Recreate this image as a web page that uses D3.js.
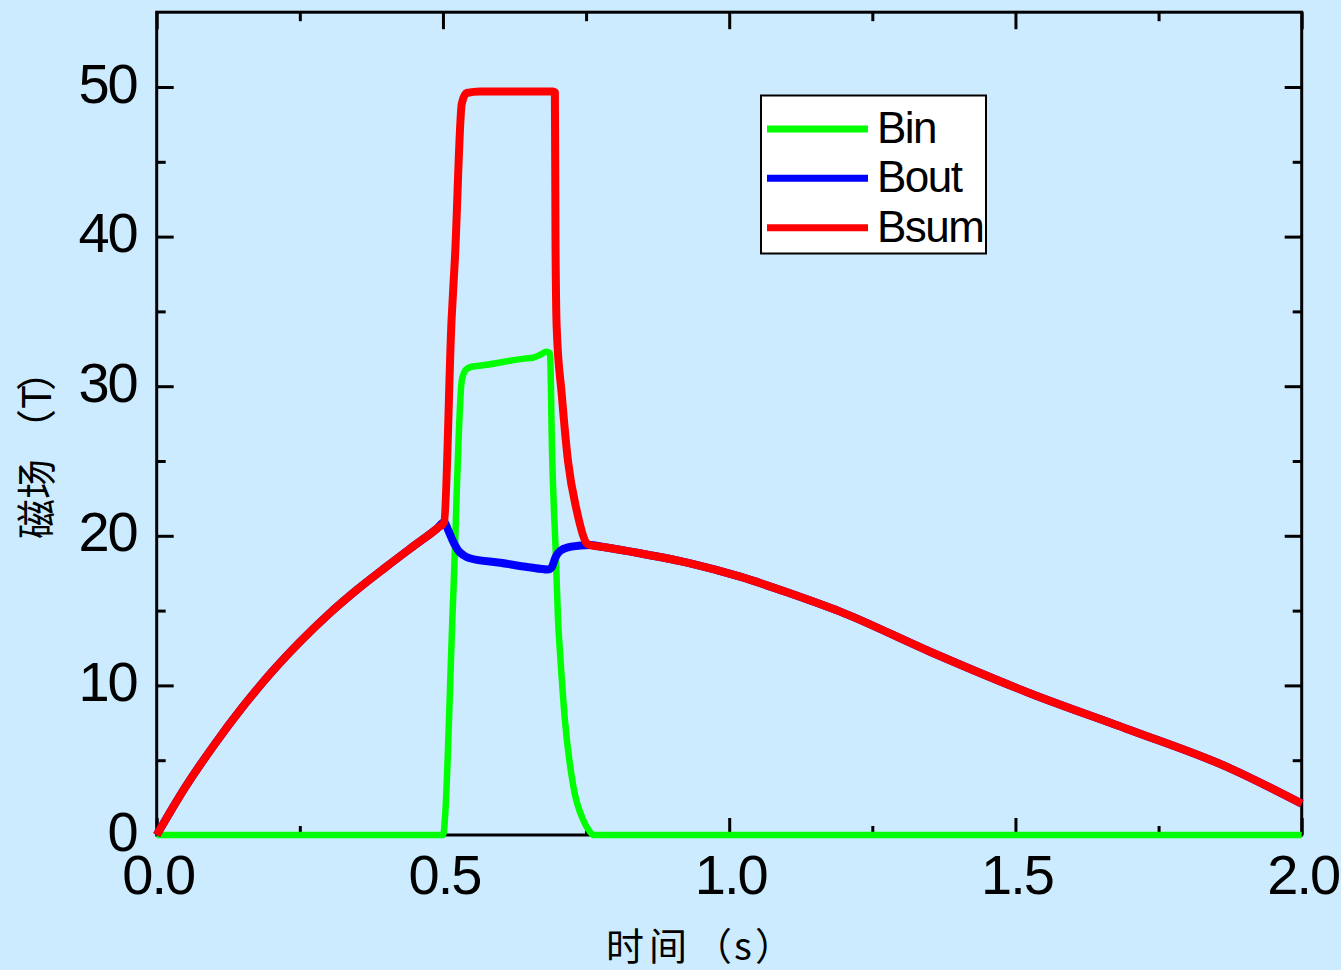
<!DOCTYPE html>
<html>
<head>
<meta charset="utf-8">
<script src="https://cdn.jsdelivr.net/npm/d3@7"></script>
<style>
  html, body { margin: 0; padding: 0; background: #CCEBFF; }
  svg { display: block; }
  .cjk { font-feature-settings: "halt" 0, "chws" 0, "palt" 0; font-kerning: none; }
</style>
</head>
<body>
<svg id="chart" width="1341" height="970"></svg>
<script>
// ---------- data ----------
const seriesNames = ["Bin", "Bout", "Bsum"];
const seriesColors = ["#00FF00", "#0000FF", "#FF0000"];

// Bin (green)
const binT = [0, 0.25, 0.5, 0.518, 0.533, 0.540, 0.550, 0.570, 0.646, 0.657, 0.670, 0.681, 0.687, 0.6905, 0.6975, 0.701, 0.7045, 0.713, 0.728, 0.745, 0.757, 0.762, 1.0, 1.5, 2.0];
const binV = [0, 0, 0, 16.0, 30.4, 31.1, 31.3, 31.4, 31.86, 31.9, 32.1, 32.3, 32.2, 25.7, 18.4, 14.4, 12.2, 7.7, 3.2, 1.0, 0.2, 0, 0, 0, 0];

// Bout (blue)
const boutT = [0, 0.05, 0.1, 0.15, 0.2, 0.25, 0.3, 0.35, 0.4, 0.45, 0.49, 0.502, 0.510, 0.518, 0.527, 0.536, 0.547, 0.600, 0.650, 0.683, 0.690, 0.697, 0.705, 0.720, 0.740, 0.757, 0.780, 0.844, 0.932, 1.019, 1.106, 1.194, 1.351, 1.525, 1.700, 1.875, 2.0];
const boutV = [0, 3.2, 6.0, 8.55, 10.85, 12.9, 14.75, 16.4, 17.9, 19.35, 20.5, 20.9, 20.3, 19.6, 19.0, 18.7, 18.5, 18.2, 17.9, 17.75, 17.9, 18.6, 19.0, 19.25, 19.35, 19.38, 19.25, 18.83, 18.16, 17.27, 16.16, 14.93, 12.25, 9.48, 7.02, 4.46, 2.1];

// Bsum (red)
const bsumT = [0, 0.05, 0.1, 0.15, 0.2, 0.25, 0.3, 0.35, 0.4, 0.45, 0.49, 0.502, 0.515, 0.521, 0.533, 0.5415, 0.565, 0.620, 0.692, 0.6955, 0.6966, 0.6987, 0.7074, 0.7184, 0.7336, 0.751, 0.757, 0.780, 0.844, 0.932, 1.019, 1.106, 1.194, 1.351, 1.525, 1.700, 1.875, 2.0];
const bsumV = [0, 3.2, 6.0, 8.55, 10.85, 12.9, 14.75, 16.4, 17.9, 19.35, 20.5, 20.9, 34.4, 38.6, 48.9, 49.6, 49.7, 49.7, 49.7, 49.65, 39.7, 33.9, 29.5, 25.0, 21.7, 19.5, 19.38, 19.25, 18.83, 18.16, 17.27, 16.16, 14.93, 12.25, 9.48, 7.02, 4.46, 2.1];

const xMajorTicks = [0, 0.5, 1.0, 1.5, 2.0];
const xTickLabels = ["0.0", "0.5", "1.0", "1.5", "2.0"];
const xMinorTicks = [0.25, 0.75, 1.25, 1.75];
const yMajorTicks = [0, 10, 20, 30, 40, 50];
const yTickLabels = ["0", "10", "20", "30", "40", "50"];
const yMinorTicks = [5, 15, 25, 35, 45];

const xTitle = "时间（s）";
const yTitle = "磁场（T）";

// ---------- layout ----------
const svg = d3.select("#chart");
const L = 156.7, R = 1301.7, T = 12.2, B = 835;
const x = d3.scaleLinear().domain([0, 2]).range([L, R]);
const y = d3.scaleLinear().domain([0, 55]).range([B, T]);

svg.append("rect").attr("width", 1341).attr("height", 970).attr("fill", "#CCEBFF");

const axisColor = "#000";
function styleAxis(g) {
  g.select(".domain").remove();
  g.selectAll("line").attr("stroke", axisColor).attr("stroke-width", 3);
}

// Major / minor ticks (inward) on all four sides
const bottomMajor = svg.append("g").attr("transform", `translate(0,${B})`)
  .call(d3.axisBottom(x).tickValues(xMajorTicks).tickSize(-17).tickFormat((d, i) => xTickLabels[i]));
const bottomMinor = svg.append("g").attr("transform", `translate(0,${B})`)
  .call(d3.axisBottom(x).tickValues(xMinorTicks).tickSize(-9).tickFormat(""));
const topMajor = svg.append("g").attr("transform", `translate(0,${T})`)
  .call(d3.axisTop(x).tickValues(xMajorTicks).tickSize(-17).tickFormat(""));
const topMinor = svg.append("g").attr("transform", `translate(0,${T})`)
  .call(d3.axisTop(x).tickValues(xMinorTicks).tickSize(-9).tickFormat(""));
const leftMajor = svg.append("g").attr("transform", `translate(${L},0)`)
  .call(d3.axisLeft(y).tickValues(yMajorTicks).tickSize(-17).tickFormat((d, i) => yTickLabels[i]));
const leftMinor = svg.append("g").attr("transform", `translate(${L},0)`)
  .call(d3.axisLeft(y).tickValues(yMinorTicks).tickSize(-9).tickFormat(""));
const rightMajor = svg.append("g").attr("transform", `translate(${R},0)`)
  .call(d3.axisRight(y).tickValues(yMajorTicks).tickSize(-17).tickFormat(""));
const rightMinor = svg.append("g").attr("transform", `translate(${R},0)`)
  .call(d3.axisRight(y).tickValues(yMinorTicks).tickSize(-9).tickFormat(""));

[bottomMajor, bottomMinor, topMajor, topMinor, leftMajor, leftMinor, rightMajor, rightMinor].forEach(styleAxis);

bottomMajor.selectAll("text")
  .attr("y", 59).attr("dy", null).attr("dx", "1")
  .attr("fill", "#000")
  .style("font-family", "'Liberation Sans', Arial, sans-serif")
  .style("font-size", "56px").style("letter-spacing", "-2px");
leftMajor.selectAll("text")
  .attr("x", -20).attr("y", 15).attr("dy", null)
  .attr("fill", "#000")
  .style("font-family", "'Liberation Sans', Arial, sans-serif")
  .style("font-size", "56px").style("letter-spacing", "-2px");

// frame
svg.append("rect").attr("x", L).attr("y", T).attr("width", R - L).attr("height", B - T)
  .attr("fill", "none").attr("stroke", axisColor).attr("stroke-width", 3);

// ---------- lines ----------
const line = d3.line().x(d => x(d[0])).y(d => y(d[1])).curve(d3.curveMonotoneX);
const seriesData = [
  d3.zip(binT, binV),
  d3.zip(boutT, boutV),
  d3.zip(bsumT, bsumV)
];
const widths = [6.5, 8, 8];
seriesData.forEach((data, i) => {
  svg.append("path").datum(data)
    .attr("d", line)
    .attr("fill", "none")
    .attr("stroke", seriesColors[i])
    .attr("stroke-width", widths[i])
    .attr("stroke-linejoin", "round")
    .attr("stroke-linecap", "butt");
});

// ---------- legend ----------
const lg = svg.append("g");
lg.append("rect").attr("x", 761).attr("y", 95.5).attr("width", 225).attr("height", 158)
  .attr("fill", "#fff").attr("stroke", "#000").attr("stroke-width", 2);
const legendY = [129, 178.3, 227.7];
seriesNames.forEach((name, i) => {
  lg.append("line").attr("x1", 767).attr("x2", 868).attr("y1", legendY[i]).attr("y2", legendY[i])
    .attr("stroke", seriesColors[i]).attr("stroke-width", 7);
  lg.append("text").attr("x", 877).attr("y", legendY[i] + 14)
    .attr("fill", "#000")
    .style("font-family", "'Liberation Sans', Arial, sans-serif")
    .style("font-size", "44px").style("letter-spacing", "-1.5px")
    .text(name);
});

// ---------- axis titles (per-glyph placement to keep full-width brackets) ----------
const xTitleX = [606, 649, 694, 734, 755];
const xt = svg.append("text").attr("class", "cjk").attr("y", 960)
  .attr("fill", "#000")
  .style("font-family", "'Noto Sans CJK SC', sans-serif").style("font-size", "38px");
Array.from(xTitle).forEach((ch, i) => {
  xt.append("tspan").attr("x", xTitleX[i]).text(ch);
});

const yTitleX = [-539, -499, -449, -409, -391];
const yt = svg.append("text").attr("class", "cjk")
  .attr("transform", "translate(51,0) rotate(-90)")
  .attr("fill", "#000")
  .style("font-family", "'Noto Sans CJK SC', sans-serif").style("font-size", "40px");
Array.from(yTitle).forEach((ch, i) => {
  yt.append("tspan").attr("x", yTitleX[i]).text(ch);
});
</script>
</body>
</html>
